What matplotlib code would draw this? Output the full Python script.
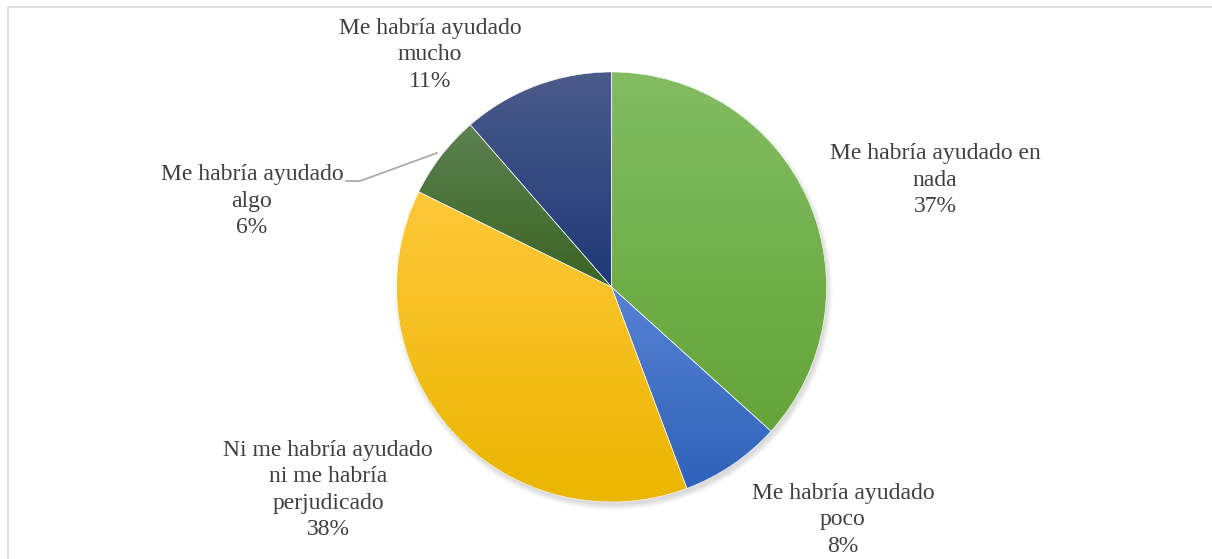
import numpy as np
import matplotlib
matplotlib.use('Agg')
import matplotlib.pyplot as plt
from matplotlib.colors import LinearSegmentedColormap
from matplotlib.patches import Circle, Rectangle

plt.rcParams['font.family'] = ['Liberation Serif', 'DejaVu Serif']

# datos
categorias = ['Me habría ayudado en\nnada',
              'Me habría ayudado\npoco',
              'Ni me habría ayudado\nni me habría\nperjudicado',
              'Me habría ayudado\nalgo',
              'Me habría ayudado\nmucho']
porcentajes = [36.7, 7.6, 38.0, 6.3, 11.4]
colores_arriba = ['#83bc63', '#5682d2', '#ffc83a', '#5d8150', '#4b5b8a']
colores_abajo = ['#64a438', '#2f62bb', '#e9b600', '#3a6324', '#1e3977']

# posiciones de las etiquetas (pixeles)
pos_etiquetas = [(935, 180), (843, 520), (328, 490), (252, 201), (430, 55)]

W, H = 1212, 559
fig = plt.figure(figsize=(W / 100, H / 100), dpi=100)
ax = fig.add_axes([0, 0, 1, 1])

centro = (611.5, 287)
radio = 215

# borde del grafico
ax.add_patch(Rectangle((8, 7), W, H, fill=False, edgecolor='#d9d9d9', lw=1.2))

# sombra suave
for k in range(6):
    ax.add_patch(Circle((centro[0] + 2, centro[1] + 4), radio + 4 - k,
                        color='black', alpha=0.025, lw=0, zorder=1))

# eje y invertido: startangle -90 = arriba, counterclock=True = sentido horario
wedges, _ = ax.pie(porcentajes, center=centro, radius=radio, startangle=-90,
                   counterclock=True, frame=True,
                   wedgeprops=dict(linewidth=0, zorder=2))
ax.set_xlim(0, W)
ax.set_ylim(H, 0)
ax.set_aspect('equal')
ax.axis('off')

grad = np.linspace(0, 1, 256).reshape(-1, 1)
for w, c1, c2 in zip(wedges, colores_arriba, colores_abajo):
    bb = w.get_path().get_extents(w.get_transform() - ax.transData)
    cmap = LinearSegmentedColormap.from_list('g', [c1, c2])
    im = ax.imshow(grad, cmap=cmap, aspect='auto',
                   extent=[bb.x0, bb.x1, bb.y1, bb.y0], zorder=3)
    im.set_clip_path(w)
    w.set_facecolor('none')

for w in wedges:
    w.set_edgecolor('white')
    w.set_linewidth(0.4)
    w.set_zorder(4)

for txt, p, (x, y) in zip(categorias, porcentajes, pos_etiquetas):
    ax.text(x, y, f'{txt}\n{round(p):d}%', ha='center', va='center', fontsize=17,
            color='#404040', linespacing=1.33, zorder=5)

# linea guia para "algo"
ax.plot([346, 360, 437], [181, 181, 153], color='#a6a6a6', lw=1.2, zorder=5)

ax.set_xlim(0, W)
ax.set_ylim(H, 0)
fig.savefig('out.png', dpi=100, facecolor='white')
